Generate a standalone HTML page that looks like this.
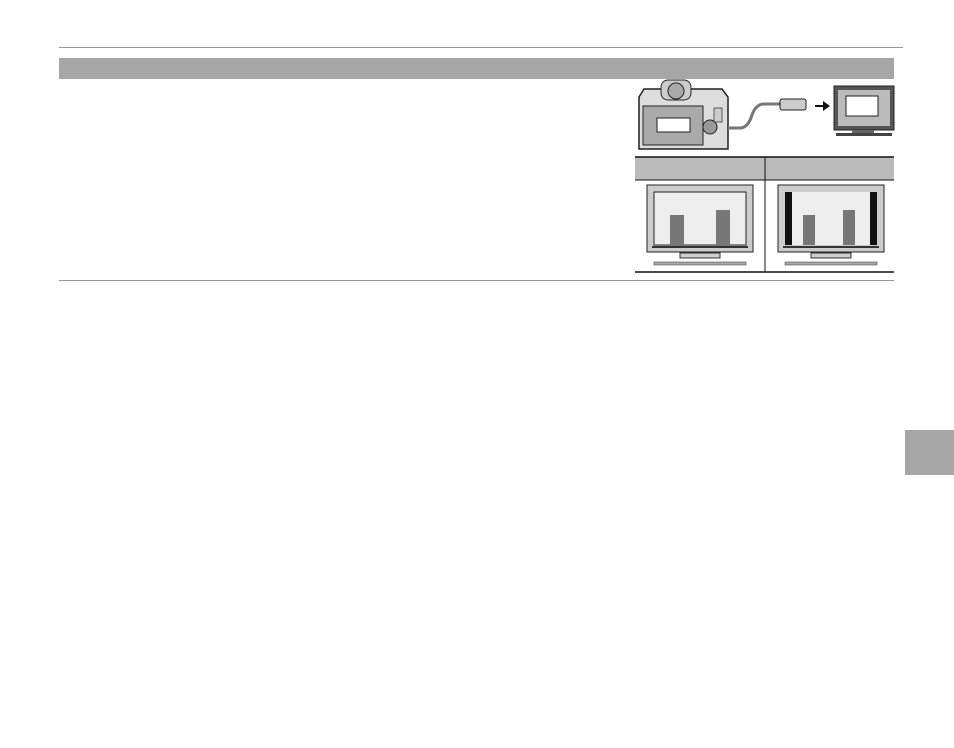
<!DOCTYPE html>
<html><head><style>
body{margin:0;width:954px;height:748px;background:#fff;position:relative;overflow:hidden;font-family:"Liberation Sans",sans-serif}
.a{position:absolute}
</style></head><body>
<div class="a" style="left:59px;top:47px;width:844px;height:1px;background:#999"></div>
<div class="a" style="left:59px;top:58px;width:835px;height:21px;background:#a6a6a6"></div>
<div class="a" style="left:59px;top:280px;width:835px;height:1px;background:#999"></div>
<div class="a" style="left:905px;top:430px;width:49px;height:45px;background:#a6a6a6"></div>
<svg class="a" style="left:630px;top:75px" width="270" height="205" viewBox="0 0 270 205">
 <!-- camera -->
 <path d="M9 22 L14 14 H92 L98 22 V74 H9 Z" fill="#ddd" stroke="#222" stroke-width="1.5"/>
 <rect x="31" y="5" width="30" height="20" rx="7" fill="#ccc" stroke="#222"/>
 <circle cx="46" cy="16" r="8" fill="#aaa" stroke="#222"/>
 <rect x="13" y="31" width="60" height="39" fill="#aaa" stroke="#222"/>
 <rect x="27" y="43" width="33" height="14" fill="#fff" stroke="#222"/>
 <circle cx="80" cy="52" r="7" fill="#999" stroke="#222"/>
 <rect x="84" y="33" width="8" height="14" fill="#ccc" stroke="#222" stroke-width=".7"/>
 <path d="M98 53 H110 Q118 53 122 40 Q126 29 134 29 H150" fill="none" stroke="#777" stroke-width="3"/>
 <rect x="150" y="24" width="26" height="11" rx="2" fill="#ccc" stroke="#222"/>
 <path d="M185 30 h8 v-4 l7 5 -7 5 v-4 h-8z" fill="#111"/>
 <!-- TV -->
 <rect x="204" y="11" width="60" height="44" fill="#555" stroke="#222"/>
 <rect x="208" y="15" width="52" height="36" fill="#bbb"/>
 <rect x="216" y="21" width="32" height="20" fill="#fff" stroke="#222"/>
 <rect x="222" y="55" width="22" height="3" fill="#666"/>
 <rect x="206" y="58" width="56" height="3" fill="#444"/>
 <!-- table -->
 <rect x="5" y="82" width="259" height="23" fill="#bbb"/>
 <line x1="5" y1="82" x2="264" y2="82" stroke="#111" stroke-width="1.5"/>
 <line x1="5" y1="105" x2="264" y2="105" stroke="#111"/>
 <line x1="5" y1="197" x2="264" y2="197" stroke="#111" stroke-width="1.5"/>
 <line x1="135" y1="82" x2="135" y2="197" stroke="#111"/>
 <g>
  <rect x="17" y="110" width="106" height="67" fill="#ccc" stroke="#222"/>
  <rect x="24" y="117" width="92" height="53" fill="#eee" stroke="#222"/>
  <rect x="40" y="140" width="14" height="30" fill="#777"/><rect x="86" y="135" width="14" height="35" fill="#777"/>
  <rect x="22" y="171" width="96" height="2" fill="#333"/>
  <rect x="50" y="178" width="40" height="5" fill="#ccc" stroke="#333"/>
  <rect x="24" y="187" width="92" height="3" fill="#aaa" stroke="#333" stroke-width=".5"/>
 </g>
 <g transform="translate(131,0)">
  <rect x="17" y="110" width="106" height="67" fill="#ccc" stroke="#222"/>
  <rect x="24" y="117" width="92" height="53" fill="#111"/>
  <rect x="31" y="117" width="78" height="53" fill="#eee"/>
  <rect x="42" y="140" width="12" height="30" fill="#777"/><rect x="82" y="135" width="12" height="35" fill="#777"/>
  <rect x="22" y="171" width="96" height="2" fill="#333"/>
  <rect x="50" y="178" width="40" height="5" fill="#ccc" stroke="#333"/>
  <rect x="24" y="187" width="92" height="3" fill="#aaa" stroke="#333" stroke-width=".5"/>
 </g>
</svg>
</body></html>
